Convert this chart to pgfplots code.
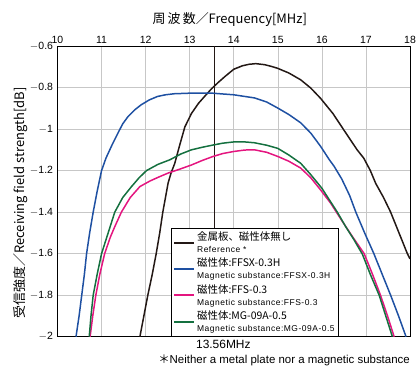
\documentclass[border=0pt]{standalone}
\usepackage{fontspec}
\setmainfont{Liberation Sans}
\newfontfamily\cjk{Noto Sans CJK JP}
\newfontfamily\wide[LetterSpace=6]{Liberation Sans}
\usepackage{pgfplots}
\pgfplotsset{compat=1.18}
\usetikzlibrary{calc}
\definecolor{cblack}{HTML}{231815}
\definecolor{cblue}{HTML}{1E50A2}
\definecolor{cpink}{HTML}{E4157F}
\definecolor{cgreen}{HTML}{14703F}
\begin{document}
\begin{tikzpicture}
\begin{axis}[
  scale only axis, width=352.5bp, height=290.7bp,
  xmin=10, xmax=18, ymin=-2, ymax=-0.6,
  xtick={10,...,18}, ytick={-2,-1.8,...,-0.6},
  xticklabel pos=upper,
  yticklabels={$-$2,$-$1.8,$-$1.6,$-$1.4,$-$1.2,$-$1,$-$0.8,$-$0.6},
  major tick length=0pt,
  grid=major, grid style={draw=black!22, line width=0.6pt},
  axis line style={line width=0.9pt},
  tick label style={font=\fontsize{10.5}{11}\selectfont},
  /pgf/number format/assume math mode=true,
  xticklabel style={yshift=-1bp},
  yticklabel style={xshift=-1bp},
  xlabel={\cjk 周\,波\,数／Frequency[MHz]},
  ylabel={\cjk 受信強度／Receiving field strength[dB]},
  label style={font=\fontsize{13}{14}\selectfont},
  xlabel style={yshift=3bp, xshift=-4bp},
  ylabel style={at={(axis description cs:-0.105,0.46)}, anchor=center},
  legend style={draw=black, line width=0.7pt, at={(0.322,0.374)}, anchor=north west,
    inner xsep=2pt, inner ysep=1.5pt, row sep=0pt,
    cells={anchor=west, align=left}},
  legend image code/.code={\draw[#1, line width=1.8pt] (0bp,0bp) -- (20bp,0bp);},
  clip mode=individual,
]
\addplot[cblack, line width=0.9pt, forget plot] coordinates {(13.56,-2) (13.56,-0.6)};
\coordinate (f) at (axis cs:13.56,-2);
\coordinate (ll) at (rel axis cs:0,0);
\coordinate (ur) at (rel axis cs:1,1);

\addplot[cblack, line width=1.5pt] coordinates {
(11.87,-2.0) (11.96,-1.90) (12.05,-1.80) (12.15,-1.70) (12.24,-1.60) (12.32,-1.50) (12.39,-1.40)
(12.45,-1.33) (12.51,-1.26) (12.58,-1.21) (12.66,-1.166) (12.77,-1.08) (12.89,-0.99)
(13.04,-0.925) (13.2,-0.876) (13.35,-0.84) (13.5,-0.805) (13.65,-0.775) (13.8,-0.747)
(14.0,-0.712) (14.2,-0.695) (14.35,-0.688) (14.5,-0.685) (14.7,-0.69) (14.85,-0.698)
(14.99,-0.707) (15.25,-0.73) (15.52,-0.763) (15.75,-0.803) (15.97,-0.852) (16.25,-0.925)
(16.5,-1.005) (16.8,-1.10) (16.95,-1.14) (17.1,-1.2) (17.22,-1.261) (17.4,-1.33)
(17.56,-1.40) (17.75,-1.50) (17.94,-1.60) (18.0,-1.625)};
\addlegendentry{{\cjk\fontsize{10.5}{11}\selectfont 金属板、磁性体無し}\\{\wide\fontsize{8.5}{9}\selectfont Reference *}}

\addplot[cblue, line width=1.5pt] coordinates {
(10.42,-2.0) (10.49,-1.9) (10.55,-1.8) (10.61,-1.7) (10.66,-1.6) (10.73,-1.5) (10.81,-1.4)
(10.9,-1.3) (11.0,-1.2) (11.1,-1.14) (11.23,-1.08) (11.37,-1.02) (11.48,-0.975) (11.6,-0.94)
(11.75,-0.908) (11.9,-0.883) (12.08,-0.86) (12.27,-0.843) (12.45,-0.835) (12.65,-0.83)
(13.03,-0.827) (13.5,-0.827) (14.0,-0.835) (14.47,-0.85) (14.75,-0.87) (15.0,-0.899)
(15.25,-0.93) (15.52,-0.97) (15.75,-1.02) (15.97,-1.083) (16.17,-1.148) (16.28,-1.18)
(16.45,-1.24) (16.63,-1.32) (16.77,-1.4) (16.97,-1.5) (17.18,-1.6) (17.37,-1.7)
(17.56,-1.8) (17.74,-1.9) (17.91,-2.0)};
\addlegendentry{{\cjk\fontsize{10.5}{11}\selectfont 磁性体:FFSX-0.3H}\\{\wide\fontsize{8.5}{9}\selectfont Magnetic substance:FFSX-0.3H}}

\addplot[cpink, line width=1.5pt] coordinates {
(10.74,-2.0) (10.8,-1.9) (10.87,-1.8) (10.96,-1.7) (11.07,-1.6) (11.2,-1.52) (11.3,-1.47)
(11.45,-1.4) (11.65,-1.33) (11.87,-1.277) (12.1,-1.25) (12.32,-1.229) (12.51,-1.212)
(12.75,-1.195) (13.04,-1.173) (13.3,-1.15) (13.53,-1.132) (13.75,-1.118) (14.0,-1.108)
(14.25,-1.101) (14.47,-1.100) (14.75,-1.112) (15.0,-1.132) (15.25,-1.155) (15.52,-1.188)
(15.75,-1.235) (15.97,-1.293) (16.2,-1.357) (16.45,-1.44) (16.7,-1.52) (16.96,-1.6)
(17.15,-1.7) (17.33,-1.8) (17.49,-1.9) (17.64,-2.0)};
\addlegendentry{{\cjk\fontsize{10.5}{11}\selectfont 磁性体:FFS-0.3}\\{\wide\fontsize{8.5}{9}\selectfont Magnetic substance:FFS-0.3}}

\addplot[cgreen, line width=1.5pt] coordinates {
(10.72,-2.0) (10.76,-1.9) (10.81,-1.8) (10.9,-1.7) (11.0,-1.6) (11.15,-1.5) (11.3,-1.4)
(11.48,-1.33) (11.68,-1.277) (11.85,-1.235) (12.02,-1.2) (12.28,-1.17) (12.55,-1.148)
(12.8,-1.12) (13.04,-1.10) (13.3,-1.087) (13.53,-1.077) (13.75,-1.068) (14.0,-1.062)
(14.25,-1.062) (14.47,-1.066) (14.75,-1.078) (15.0,-1.093) (15.25,-1.125) (15.52,-1.165)
(15.75,-1.22) (16.0,-1.285) (16.17,-1.341) (16.35,-1.4) (16.54,-1.47) (16.72,-1.53)
(16.92,-1.603) (17.1,-1.7) (17.3,-1.8) (17.45,-1.9) (17.6,-2.0)};
\addlegendentry{{\cjk\fontsize{10.5}{11}\selectfont 磁性体:MG-09A-0.5}\\{\wide\fontsize{8.5}{9}\selectfont Magnetic substance:MG-09A-0.5}}
\end{axis}
\node[anchor=north, xshift=9bp, yshift=-2bp, inner sep=1pt] at (f) {\fontsize{12}{13}\selectfont 13.56MHz};
\node[anchor=base east, inner sep=0pt] at ($(ll -| ur)+(0bp,-27bp)$) {\fontsize{11.5}{12}\selectfont{\cjk ＊}Neither a metal plate nor a magnetic substance};
\pgfresetboundingbox
\path[use as bounding box] ($(ll)+(-57.5bp,-30.3bp)$) rectangle ($(ur)+(8bp,46bp)$);
\end{tikzpicture}
\end{document}
